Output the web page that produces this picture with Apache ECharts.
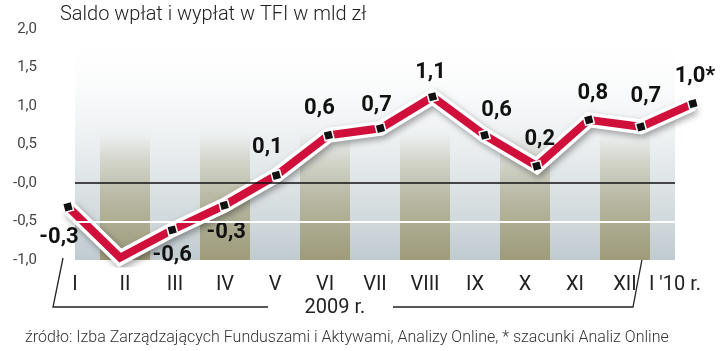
<!DOCTYPE html>
<html>
<head>
<meta charset="utf-8">
<script src="https://cdn.jsdelivr.net/npm/echarts@6/dist/echarts.min.js"></script>
<style>
html,body{margin:0;padding:0;background:#fff;}
#chart{width:720px;height:351px;}
</style>
</head>
<body>
<div id="chart"></div>
<script>
const months = ['I','II','III','IV','V','VI','VII','VIII','IX','X','XI','XII',"I '10 r."];
const saldo = [-0.31,-0.97,-0.61,-0.29,0.10,0.62,0.71,1.12,0.62,0.22,0.82,0.73,1.03];
const valueLabels = ['-0,3','','-0,6','-0,3','0,1','0,6','0,7','1,1','0,6','0,2','0,8','0,7','1,0*'];
const yTickLabels = ['-1,0','-0,5','-0,0','0,5','1,0','1,5','2,0'];
const titleText = 'Saldo wpłat i wypłat w TFI w mld zł';
const yearText = '2009 r.';
const sourceText = 'źródło: Izba Zarządzających Funduszami i Aktywami, Analizy Online, * szacunki Analiz Online';

// label placement (layout only)
const labelPlace = [
  ['bottom',-9,8],[null,0,0],['bottom',0,3],['bottom',2,5],['top',-9,-5],['top',-9,-4],
  ['top',-4,0],['top',-2,-2],['top',12,-2],['top',3,-4],['top',4,-4],['top',5,-8],['top',2,-5]
];

const RED = '#d0103a';
const chart = echarts.init(document.getElementById('chart'), null, {renderer:'canvas'});

const redData = saldo.map((v,i) => {
  const p = labelPlace[i];
  const item = {value: v};
  if (!valueLabels[i]) {
    item.symbol = 'none';
    item.label = {show:false};
  } else {
    item.label = {show:true, position:p[0], offset:[p[1],p[2]]};
  }
  return item;
});

// decorative alternating stripes (every second month column), full panel height
const stripeCols = months.map((m,i) => (i % 2 === 1 ? 3 : '-'));

const khaki = new echarts.graphic.LinearGradient(0,0,0,1,[
  {offset:0, color:'rgba(170,166,130,0)'},
  {offset:0.45, color:'rgba(170,166,130,0)'},
  {offset:0.56, color:'rgba(170,166,130,0.28)'},
  {offset:0.72, color:'rgba(165,161,125,0.6)'},
  {offset:1, color:'rgba(155,151,115,0.92)'}
]);

const option = {
  animation:false,
  backgroundColor:'#fff',
  grid:[
    {left:42, right:1, top:29, bottom:91},
    {left:50, right:20, top:29, bottom:91}
  ],
  xAxis:[
    {gridIndex:0, type:'category', data:months, boundaryGap:true, show:false},
    {gridIndex:1, type:'category', data:months, boundaryGap:true,
     axisLine:{show:false}, axisTick:{show:false},
     axisLabel:{show:true, margin:15, fontSize:20, color:'#222', fontFamily:'Roboto', interval:0},
     splitLine:{show:false}
    }
  ],
  yAxis:[
    {gridIndex:0, type:'value', min:-1, max:2, interval:0.5,
     axisLine:{show:false}, axisTick:{show:false}, splitLine:{show:false},
     axisLabel:{show:true, margin:5, fontSize:15, color:'#444', fontFamily:'Roboto', padding:[8,0,0,0],
       formatter:(v)=> yTickLabels[Math.round((v+1)/0.5)]}
    },
    {gridIndex:1, type:'value', min:-1, max:2, interval:0.5, show:false},
    {gridIndex:1, type:'value', min:0, max:3, show:false}
  ],
  series:[
    {
      type:'line', xAxisIndex:1, yAxisIndex:1, data:saldo, z:0, silent:true,
      symbol:'none', lineStyle:{opacity:0},
      markArea:{silent:true,
        itemStyle:{color:new echarts.graphic.LinearGradient(0,0,0,1,[
          {offset:0, color:'rgba(255,255,255,0)'},
          {offset:0.3, color:'rgba(244,246,247,0.7)'},
          {offset:0.6, color:'#e3e8ea'},
          {offset:0.8, color:'#d3dbde'},
          {offset:1, color:'#c0cbd0'}
        ])},
        data:[[{coord:[0,-1]},{coord:[12,2]}]]
      }
    },
    {
      type:'bar', xAxisIndex:1, yAxisIndex:2, data:stripeCols, z:1, silent:true,
      barWidth:'100%', barGap:'0%', itemStyle:{color:khaki}
    },
    {
      type:'line', xAxisIndex:1, yAxisIndex:1, data:saldo, z:2, silent:true,
      symbol:'none', lineStyle:{opacity:0},
      markLine:{silent:true, symbol:'none', label:{show:false},
        data:[
          [{coord:[0,-0.5], lineStyle:{color:'#fff', width:2, type:'solid'}},{coord:[12,-0.5]}],
          [{coord:[0,0], lineStyle:{color:'#111', width:1.5, type:'solid'}},{coord:[12,0]}]
        ]
      }
    },
    {
      type:'line', xAxisIndex:0, yAxisIndex:0, data:saldo, z:3, silent:true,
      symbol:'none',
      lineStyle:{color:'#fff', width:15, join:'miter', miterLimit:10,
        shadowColor:'rgba(0,0,0,0.35)', shadowBlur:6, shadowOffsetX:2, shadowOffsetY:3}
    },
    {
      type:'line', xAxisIndex:0, yAxisIndex:0, data:redData, z:4, silent:true,
      symbol:'rect', symbolSize:9, symbolRotate:15, showAllSymbol:true,
      itemStyle:{color:'#111', borderColor:'#fff', borderWidth:1.5},
      lineStyle:{color:RED, width:8, join:'miter', miterLimit:10},
      label:{show:true, distance:5, fontSize:22, fontWeight:'bold', color:'#111', fontFamily:'Roboto',
        formatter:(p)=> valueLabels[p.dataIndex]}
    }
  ],
  graphic:[
    {type:'text', left:60, top:5, style:{text:titleText, fontSize:20, fontFamily:'Roboto', fontWeight:300, fill:'#222'}},
    {type:'polyline', shape:{points:[[63,258],[53,307],[268,307]]}, style:{stroke:'#222', lineWidth:1.3, fill:null}},
    {type:'polyline', shape:{points:[[393,307],[633,307],[643,254]]}, style:{stroke:'#222', lineWidth:1.3, fill:null}},
    {type:'text', x:335, y:308, style:{text:yearText, fontSize:20, fontFamily:'Roboto', fill:'#222', align:'center', verticalAlign:'middle'}},
    {type:'text', left:25, top:330, style:{text:sourceText, fontSize:16, fontFamily:'Roboto', fontWeight:300, fill:'#333'}}
  ]
};
chart.setOption(option);
</script>
</body>
</html>
